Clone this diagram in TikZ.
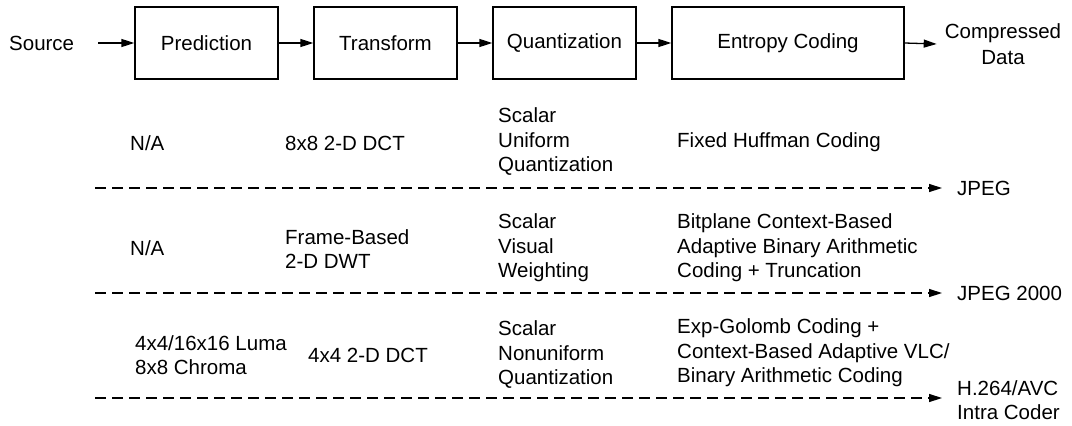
\documentclass[tikz,border=0pt]{standalone}
\usepackage{fontspec}
\setmainfont{Liberation Sans}
\usetikzlibrary{arrows.meta}
\begin{document}
\begin{tikzpicture}[x=1pt,y=-1pt,
  every node/.style={font=\fontsize{20.5}{24.5}\selectfont},
  stage/.style={draw,line width=1.3pt,minimum height=72pt,inner sep=0pt},
  txt/.style={anchor=west,inner sep=0pt,align=left},
  tip/.style={-{Triangle[length=13pt,width=8pt]}},
  arr/.style={line width=1.3pt,tip},
  darr/.style={line width=1.4pt,dash pattern=on 11pt off 6pt,tip}]
\useasboundingbox (0,0) rectangle (1072,426);

% processing chain
\node[txt] (src) at (9,43) {Source};
\node[stage,minimum width=143pt] (pred)  at (206.5,43) {Prediction};
\node[stage,minimum width=143pt] (trans) at (385.5,43) {Transform};
\node[stage,minimum width=143pt] (quant) at (564.5,43) {Quantization};
\node[stage,minimum width=232pt] (ent)   at (788,43)   {Entropy Coding};
\node[inner sep=0pt,align=center,font=\fontsize{20.5}{26}\selectfont] (out) at (1003,44) {Compressed\\Data};

\draw[arr] ([xshift=24pt]src.east) -- (pred.west);
\draw[arr] (pred) -- (trans);
\draw[arr] (trans) -- (quant);
\draw[arr] (quant) -- (ent);
\draw[arr] (ent.east) -- ([xshift=-8pt]out.west);

% JPEG
\node[txt] (a1) at (130,143) {N/A};
\node[txt] (b1) at (285,143) {8x8 2-D DCT};
\node[txt] (c1) at (498,142) {Scalar\\Uniform\\Quantization};
\node[txt] (e1) at (677,142) {Fixed Huffman Coding};
\coordinate (s1) at (95,188);
\node[txt] (jpeg) at (957,188) {JPEG};
\draw[darr] (s1) -- ([xshift=-15pt]jpeg.west);

% JPEG 2000
\node[txt] (a2) at (130,248) {N/A};
\node[txt] (b2) at (285,249) {Frame-Based\\2-D DWT};
\node[txt] (c2) at (498,248) {Scalar\\Visual\\Weighting};
\node[txt] (e2) at (677,248) {Bitplane Context-Based\\Adaptive Binary Arithmetic\\Coding + Truncation};
\coordinate (s2) at (95,293);
\node[txt] (j2k) at (957,293) {JPEG 2000};
\draw[darr] (s2) -- ([xshift=-15pt]j2k.west);

% H.264/AVC intra
\node[txt] (a3) at (135,355) {4x4/16x16 Luma\\8x8 Chroma};
\node[txt] (b3) at (308,355) {4x4 2-D DCT};
\node[txt] (c3) at (498,355) {Scalar\\Nonuniform\\Quantization};
\node[txt] (e3) at (677,353) {Exp-Golomb Coding +\\Context-Based Adaptive VLC/\\Binary Arithmetic Coding};
\coordinate (s3) at (95,398);
\node[txt] (avc) at (957,400) {H.264/AVC\\Intra Coder};
\draw[darr] (s3) -- ([xshift=-15pt]avc.west |- s3);
\end{tikzpicture}
\end{document}
